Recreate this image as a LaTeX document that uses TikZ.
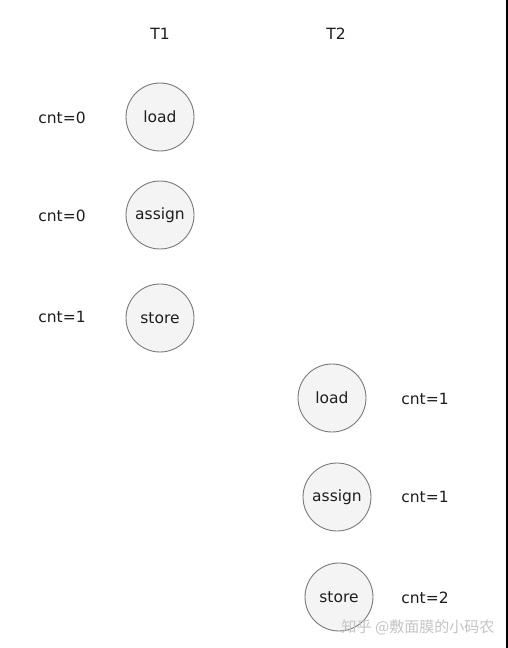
\documentclass[tikz,border=0pt]{standalone}
\usepackage{fontspec}
\setmainfont{DejaVu Sans}
\newfontfamily\cjk{Noto Sans CJK SC}
\definecolor{circfill}{HTML}{F4F4F4}
\definecolor{circdraw}{HTML}{7A7A7A}
\definecolor{txt}{HTML}{1E1E1E}
\definecolor{wm}{HTML}{C4C4C4}
\begin{document}
\begin{tikzpicture}[x=1pt,y=-1pt,
  opnode/.style={circle,draw=circdraw,fill=circfill,line width=0.9pt,minimum size=68pt,inner sep=0pt,text=txt,font=\fontsize{15.5}{18}\selectfont},
  lbl/.style={text=txt,font=\fontsize{15.5}{18}\selectfont,inner sep=0pt}]
\useasboundingbox (0,0) rectangle (508,648);
\fill[white] (0,0) rectangle (508,648);
\fill[black] (506,0) rectangle (508,648);
\node[lbl] (t1) at (160,34) {T1};
\node[lbl] (t2) at (336,34) {T2};
\node[opnode] (l1) at (160,117) {load};
\node[opnode] (a1) at (160,215) {assign};
\node[opnode] (s1) at (160,318) {store};
\node[opnode] (l2) at (332,398) {load};
\node[opnode] (a2) at (337,497) {assign};
\node[opnode] (s2) at (339,597) {store};
\node[lbl] (c1) at (62,118) {cnt=0};
\node[lbl] (c2) at (62,216) {cnt=0};
\node[lbl] (c3) at (62,317) {cnt=1};
\node[lbl] (c4) at (425,399) {cnt=1};
\node[lbl] (c5) at (425,497) {cnt=1};
\node[lbl] (c6) at (425,598) {cnt=2};
\node[text=wm,font=\cjk\fontsize{15}{18}\selectfont,inner sep=0pt] (wmk) at (418,627) {知乎 @敷面膜的小码农};
\end{tikzpicture}
\end{document}
